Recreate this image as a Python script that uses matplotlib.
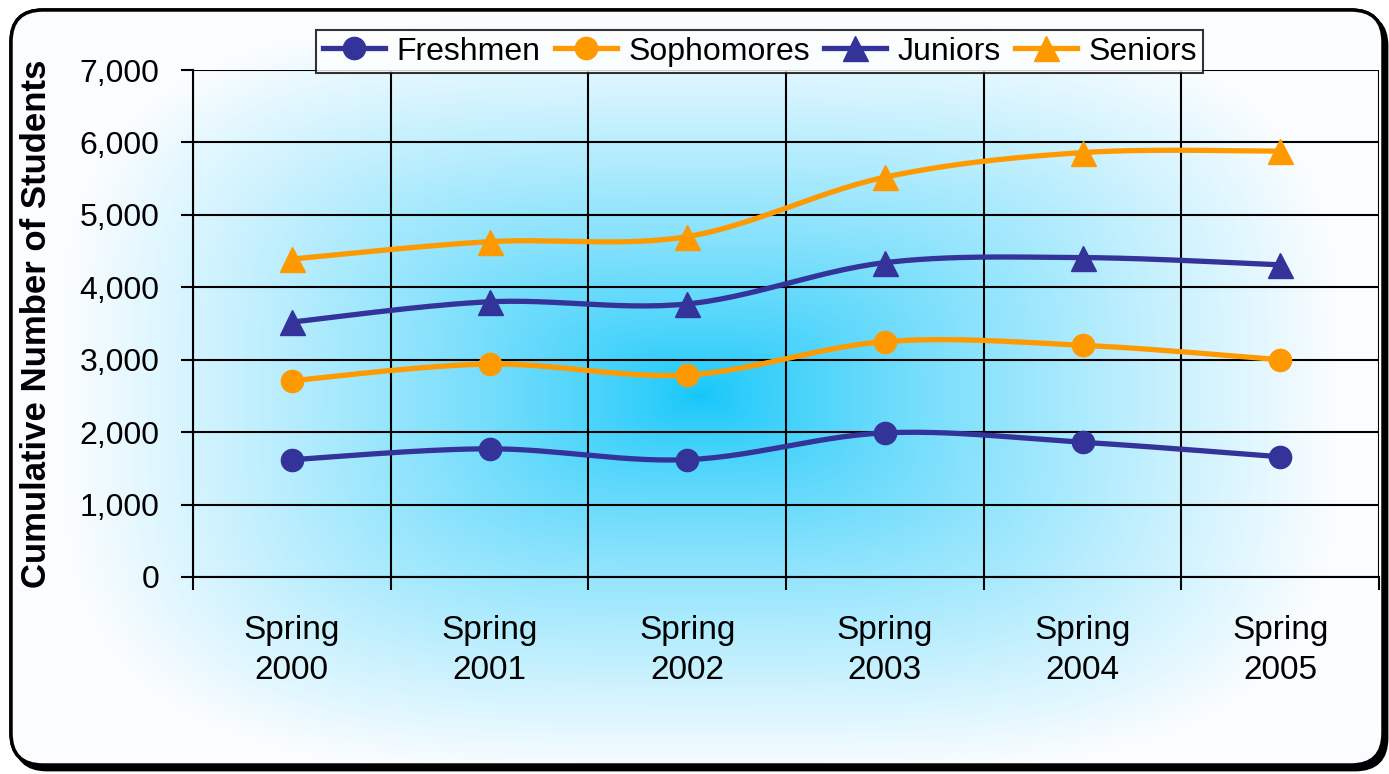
import numpy as np
import matplotlib.pyplot as plt
from matplotlib.patches import FancyBboxPatch
from matplotlib.ticker import FuncFormatter

plt.rcParams['font.family'] = ['Liberation Sans', 'DejaVu Sans']

categories = ["Spring\n2000", "Spring\n2001", "Spring\n2002",
              "Spring\n2003", "Spring\n2004", "Spring\n2005"]
freshmen = [1620, 1770, 1620, 1990, 1860, 1660]
sophomores = [2710, 2940, 2790, 3250, 3200, 3000]
juniors = [3520, 3800, 3770, 4340, 4410, 4310]
seniors = [4390, 4630, 4700, 5520, 5860, 5880]

navy = "#333399"
orange = "#FF9900"


def smooth(xs, ys, n=30):
    # catmull-rom curve through the points (like excel's smoothed lines)
    xs = np.asarray(xs, float)
    ys = np.asarray(ys, float)
    px = np.concatenate([[xs[0]], xs, [xs[-1]]])
    py = np.concatenate([[ys[0]], ys, [ys[-1]]])
    outx, outy = [], []
    t = np.linspace(0, 1, n)
    for i in range(1, len(px) - 2):
        for p, out in ((px, outx), (py, outy)):
            p0, p1, p2, p3 = p[i - 1], p[i], p[i + 1], p[i + 2]
            c1 = p1 + (p2 - p0) / 6
            c2 = p2 - (p3 - p1) / 6
            out.extend((1 - t) ** 3 * p1 + 3 * (1 - t) ** 2 * t * c1
                       + 3 * (1 - t) * t ** 2 * c2 + t ** 3 * p2)
    return np.array(outx), np.array(outy)


W, H = 1389, 774
fig = plt.figure(figsize=(W / 100, H / 100), dpi=100)
fig.patch.set_facecolor("white")

# background with rounded frame and centre gradient
bg = fig.add_axes([0, 0, 1, 1])
bg.set_xlim(0, W)
bg.set_ylim(H, 0)
bg.axis("off")

shadow = FancyBboxPatch((15, 14), 1372, 756, boxstyle="round,pad=0,rounding_size=32",
                        facecolor="black", edgecolor="black", lw=2)
bg.add_patch(shadow)
frame = FancyBboxPatch((11, 10), 1372, 755, boxstyle="round,pad=0,rounding_size=32",
                       facecolor="white", edgecolor="black", lw=2.5, zorder=2)
bg.add_patch(frame)

yy, xx = np.mgrid[0:H, 0:W]
d = ((np.abs(xx - 700) / 640) ** 3.5 + (np.abs(yy - 395) / 380) ** 3.5) ** (1 / 3.5)
t = np.clip(d, 0, 1) ** 0.8
c0 = np.array([0.08, 0.78, 0.98])
c1 = np.array([0.985, 0.992, 1.0])
img = c0[None, None, :] + (c1 - c0)[None, None, :] * t[:, :, None]
im = bg.imshow(img, extent=(0, W, H, 0), zorder=3, aspect="auto")
im.set_clip_path(frame)
frame2 = FancyBboxPatch((11, 10), 1372, 755, boxstyle="round,pad=0,rounding_size=32",
                        facecolor="none", edgecolor="black", lw=2.5, zorder=4)
bg.add_patch(frame2)

# plot area
ax = fig.add_axes([193 / W, 1 - 577 / H, (1379 - 193) / W, (577 - 70) / H])
ax.patch.set_alpha(0)

x = np.arange(len(categories))
series = [("Freshmen", freshmen, navy, "o", 16),
          ("Sophomores", sophomores, orange, "o", 16),
          ("Juniors", juniors, navy, "^", 18),
          ("Seniors", seniors, orange, "^", 18)]
for name, vals, col, mk, ms in series:
    sx, sy = smooth(x, vals)
    ax.plot(sx, sy, color=col, lw=3.8, zorder=3, solid_capstyle="round")
    ax.plot(x, vals, linestyle="none", marker=mk, markersize=ms, color=col, zorder=4)
    ax.plot([], [], color=col, lw=3.8, marker=mk, markersize=ms, label=name)

ax.set_xlim(-0.5, len(categories) - 0.5)
ax.set_ylim(0, 7000)
ax.set_yticks(np.arange(0, 7001, 1000))
ax.yaxis.set_major_formatter(FuncFormatter(lambda v, p: f"{int(v):,}"))
ax.set_xticks(np.arange(-0.5, len(categories), 1))
ax.set_xticklabels([])
ax.set_xticks(x, minor=True)
ax.set_xticklabels(categories, minor=True, fontsize=24, linespacing=1.4)
ax.tick_params(axis="x", which="minor", length=0, pad=27)
ax.tick_params(axis="x", which="major", length=9, width=1.5, direction="out")
ax.tick_params(axis="y", length=9, width=1.5, direction="out", labelsize=23, pad=15)
ax.grid(True, color="black", lw=1.5)
for s in ax.spines.values():
    s.set_linewidth(1.5)
ax.spines["top"].set_visible(False)
ax.spines["right"].set_visible(False)

ax.set_ylabel("Cumulative Number of Students", fontsize=25, fontweight="bold")
ax.yaxis.set_label_coords(-0.118, 0.5)

leg = ax.legend(loc="lower center", bbox_to_anchor=(0.478, 0.994), ncol=4, fontsize=23,
                frameon=True, fancybox=False, edgecolor="black", handlelength=1.95,
                handletextpad=0.35, columnspacing=0.45, borderpad=0.2, borderaxespad=0)
leg.get_frame().set_linewidth(1.5)
leg.get_frame().set_facecolor("white")

fig.savefig("out.png", dpi=100)
